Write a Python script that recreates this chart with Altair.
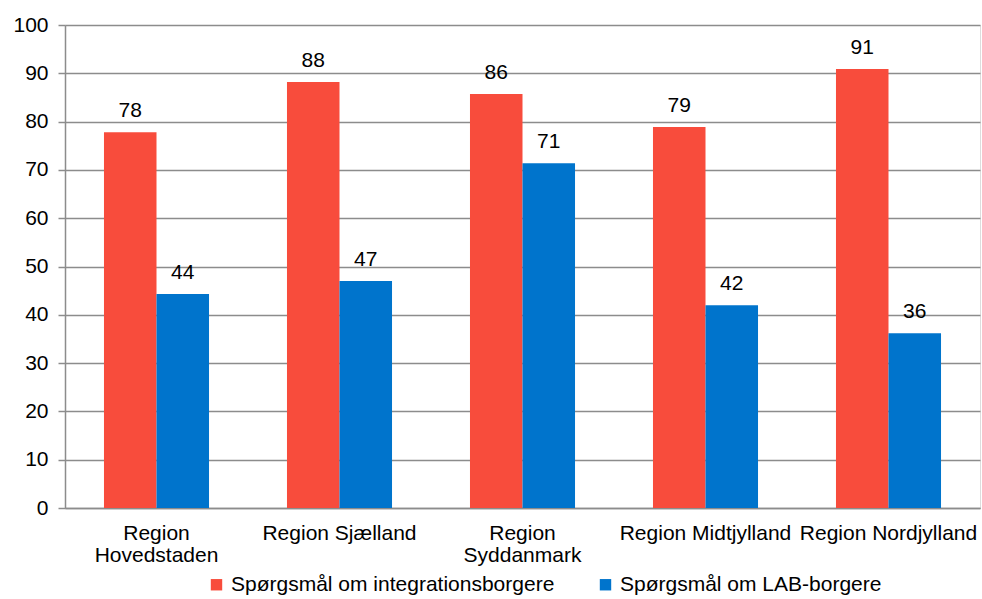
import altair as alt
import pandas as pd

regions = ["Region Hovedstaden", "Region Sjælland", "Region Syddanmark", "Region Midtjylland", "Region Nordjylland"]
series = ["Spørgsmål om integrationsborgere", "Spørgsmål om LAB-borgere"]
integration = [77.8, 88.2, 85.7, 78.9, 90.9]
lab = [44.3, 47.0, 71.4, 42.0, 36.2]
colors = ["#F84C3C", "#0074CC"]

rows = []
for i, r in enumerate(regions):
    rows.append({"region": r, "series": series[0], "value": integration[i]})
    rows.append({"region": r, "series": series[1], "value": lab[i]})
df = pd.DataFrame(rows)

FS = 21
FONT = "Liberation Sans"

label_expr = ("datum.value == 'Region Hovedstaden' ? ['Region', 'Hovedstaden'] : "
              "datum.value == 'Region Syddanmark' ? ['Region', 'Syddanmark'] : datum.value")

x = alt.X("region:N", sort=regions, title=None,
          scale=alt.Scale(paddingInner=0.426, paddingOuter=0.213),
          axis=alt.Axis(labelAngle=0, labelExpr=label_expr, labelFontSize=FS,
                        labelColor="#000000", labelPadding=14, ticks=False,
                        domainColor="#8c8c8c", domainWidth=1.5, labelLineHeight=22,
                        labelFont=FONT, labelLimit=400))
y = alt.Y("value:Q", title=None,
          scale=alt.Scale(domain=[0, 100]),
          axis=alt.Axis(values=list(range(0, 101, 10)), labelFontSize=FS,
                        labelColor="#000000", tickColor="#8c8c8c", tickSize=7,
                        tickWidth=1.5, domainColor="#8c8c8c", domainWidth=1.5,
                        gridColor="#8c8c8c", gridWidth=1.5, labelPadding=10,
                        labelFont=FONT))

base = alt.Chart(df).encode(
    x=x,
    xOffset=alt.XOffset("series:N", sort=series, scale=alt.Scale(paddingInner=0, paddingOuter=0)),
    y=y,
)

bars = base.mark_bar().encode(
    color=alt.Color("series:N", sort=series,
                    scale=alt.Scale(domain=series, range=colors),
                    legend=alt.Legend(title=None, orient="none", direction="horizontal",
                                      legendX=141, legendY=549, symbolType="square",
                                      symbolSize=130, symbolStrokeWidth=0,
                                      labelFontSize=FS, labelFont=FONT, labelLimit=500,
                                      labelColor="#000000", columnPadding=40,
                                      symbolOffset=0, labelOffset=4))
)

text = base.mark_text(baseline="alphabetic", dy=-15, fontSize=FS,
                      font=FONT, color="#000000").encode(
    text=alt.Text("value:Q", format=".0f")
)

chart = (bars + text).properties(
    width=915, height=483,
    autosize=alt.AutoSizeParams(type="none"),
    padding={"left": 65, "top": 25, "right": 2, "bottom": 91},
).configure_view(stroke=None).configure(background="white")

chart.save("out.html", embed_options={"renderer": "svg", "actions": False})
